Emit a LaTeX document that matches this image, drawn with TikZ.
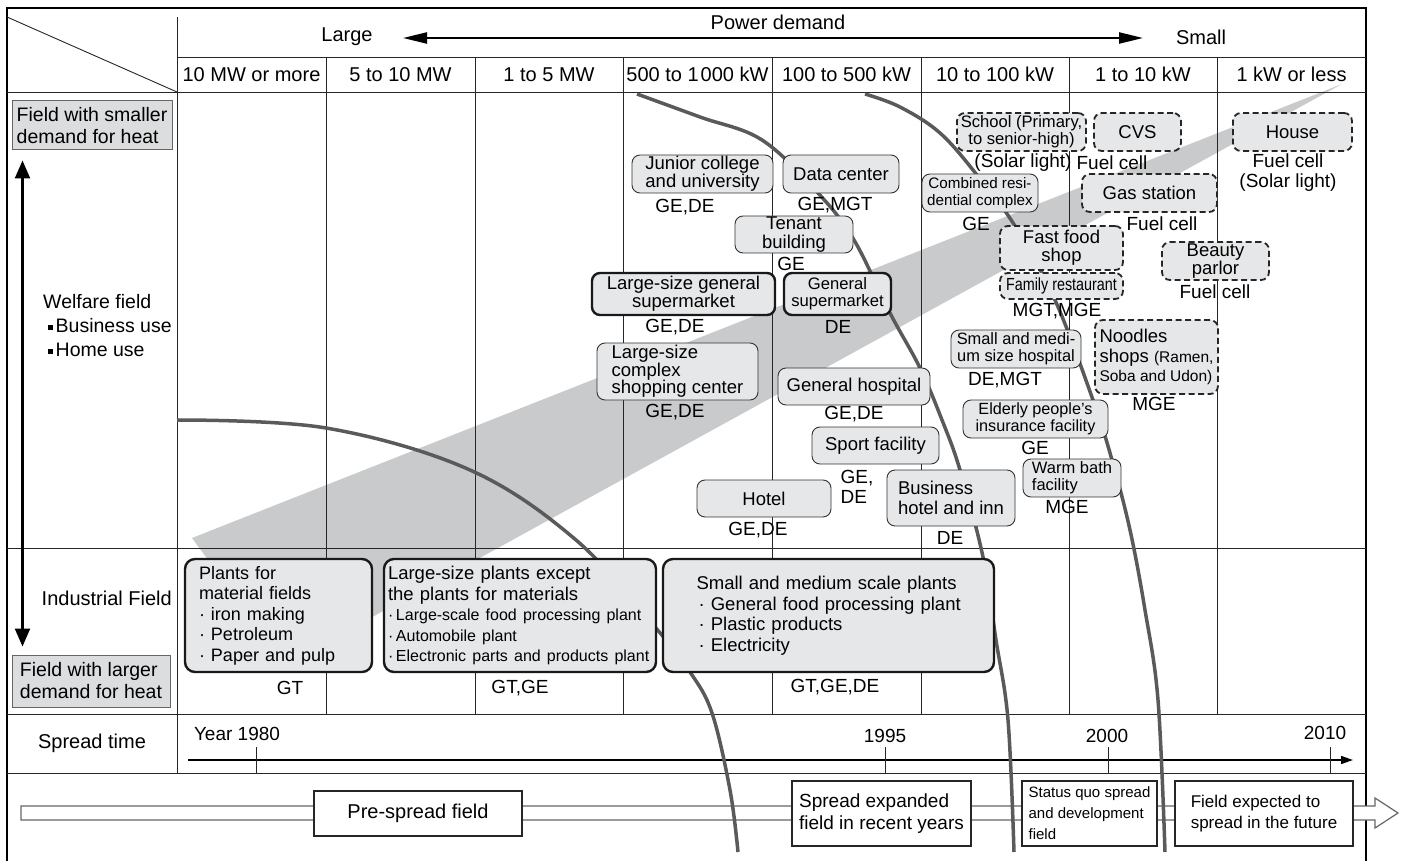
\documentclass[tikz,border=0pt]{standalone}
\usepackage{fontspec}
\setmainfont{Liberation Sans}
\newfontfamily\narrowf[FakeStretch=0.82]{Liberation Sans}
\usetikzlibrary{arrows.meta}
\definecolor{nfill}{HTML}{E6E7E8}
\definecolor{wedgec}{HTML}{C9CACB}
\definecolor{curvec}{HTML}{5A5A5A}
\definecolor{hfill}{HTML}{DCDDDE}
\newcommand{\fsz}[2]{\fontsize{#1}{#2}\selectfont}
\newcommand{\sqb}{\rule[3pt]{4.5pt}{4.5pt}}
\begin{document}
\begin{tikzpicture}[x=1pt,y=-1pt,
  gln/.style={line width=0.9pt, draw=black!85},
  frm/.style={line width=1.3pt, draw=black},
  nd/.style={draw=black!80, fill=nfill, line width=0.9pt, rounded corners=8pt, inner sep=0pt, align=center, font=\fsz{18.5}{17}},
  thk/.style={nd, line width=2.4pt, draw=black!90},
  dsh/.style={nd, dash pattern=on 6pt off 3.5pt, line width=1.8pt, draw=black!85},
  lbl/.style={inner sep=0pt, font=\fsz{19}{20}, align=center},
  ind/.style={draw=black!90, fill=nfill, line width=2.4pt, rounded corners=10pt, inner sep=0pt, align=left},
  btm/.style={draw=black!85, fill=white, line width=2pt, inner sep=0pt},
  hbx/.style={draw=black!60, fill=hfill, line width=1pt, inner sep=0pt, align=left, font=\fsz{19.5}{22}},
  crv/.style={draw=curvec, line width=3.5pt},
  hdr/.style={inner sep=0pt, font=\fsz{20}{22}},
  tipA/.style={line width=2.4pt, {Triangle[length=24pt,width=11pt]}-{Triangle[length=24pt,width=11pt]}},
  tipB/.style={line width=2.4pt, {Triangle[length=18pt,width=15pt]}-{Triangle[length=18pt,width=15pt]}},
  tipC/.style={line width=1.6pt, -{Triangle[length=12pt,width=8pt]}}
]
\useasboundingbox (0,0) rectangle (1409,861);

% gray wedge
\fill[wedgec] (192,538) -- (1342,84) -- (285,665) -- cycle;

% frame and grid
\draw[frm] (7,861) -- (7,8) -- (1366,8) -- (1366,861);
\draw[gln] (177,57) -- (1366,57);
\draw[gln] (7,92) -- (1366,92);
\draw[gln] (7,548) -- (1366,548);
\draw[gln] (7,714) -- (1366,714);
\draw[gln] (7,773) -- (1366,773);
\draw[gln] (177,17) -- (177,773);
\draw[gln] (7,17) -- (177,92);
\foreach \cx in {326,475,623,772,921,1069,1217} {\draw[gln] (\cx,57) -- (\cx,714);}

% bottom hollow band arrow
\draw[draw=black!60, fill=white, line width=1.2pt] (21,806) -- (1375,806) -- (1375,798) -- (1398,813) -- (1375,828) -- (1375,820) -- (21,820) -- cycle;

% timeline
\coordinate (tlA) at (188,760);
\coordinate (tlB) at (1353,760);
\draw[tipC] (tlA) -- (tlB);
\foreach \tx in {256,885,1108,1330} {\draw[gln] (\tx,747) -- (\tx,773);}
\node[hdr, font=\fsz{19}{20}] (y1980) at (237,734) {Year 1980};
\node[hdr, font=\fsz{19}{20}] (y1995) at (885,736) {1995};
\node[hdr, font=\fsz{19}{20}] (y2000) at (1107,736) {2000};
\node[hdr, font=\fsz{19}{20}] (y2010) at (1325,733) {2010};

% curves
\draw[crv] plot[smooth, tension=0.6] coordinates {(177,420) (326,428) (470,470) (576,540) (655,627) (690,672) (712,713) (730,790) (738,852)};
\draw[crv] plot[smooth, tension=0.6] coordinates {(637,94) (700,117) (762,140) (818,193) (854,240) (890,313) (920,368) (942,420) (960,470) (983,557) (996,640) (1008,720) (1014,852)};
\draw[crv] plot[smooth, tension=0.6] coordinates {(865,94) (900,107) (940,133) (977,175) (1015,226) (1055,300) (1093,400) (1112,460) (1130,530) (1145,610) (1158,700) (1165,852)};

% header
\node[hdr] (pd) at (778,22) {Power demand};
\node[hdr] (lg) at (347,37) {Large};
\node[hdr] (sm) at (1201,37) {Small};
\coordinate (pdL) at (403,38);
\coordinate (pdR) at (1143,38);
\draw[tipA] (pdL) -- (pdR);
\node[hdr] (c1) at (251.5,74.5) {10 MW or more};
\node[hdr] (c2) at (400.5,74.5) {5 to 10 MW};
\node[hdr] (c3) at (549,74.5) {1 to 5 MW};
\node[hdr] (c4) at (697.5,74.5) {500 to 1\kern2pt000 kW};
\node[hdr] (c5) at (846.5,74.5) {100 to 500 kW};
\node[hdr] (c6) at (995,74.5) {10 to 100 kW};
\node[hdr] (c7) at (1143,74.5) {1 to 10 kW};
\node[hdr] (c8) at (1291.5,74.5) {1 kW or less};

% left column
\node[hbx, minimum width=160pt, minimum height=49pt] (smaller) at (92,125.5) {Field with smaller\\demand for heat};
\node[hbx, minimum width=158pt, minimum height=52pt] (larger) at (91,681) {Field with larger\\demand for heat};
\draw[tipB] ([xshift=11pt,yshift=-10pt]smaller.south west) -- ([xshift=11pt,yshift=8pt]larger.north west);
\node[hdr, anchor=west, align=left, font=\fsz{19.5}{24}] (welf) at (43,326) {Welfare field\\\hspace*{5pt}\sqb\hspace{3pt}Business use\\\hspace*{5pt}\sqb\hspace{3pt}Home use};
\node[hdr, anchor=east] (indf) at (172,598) {Industrial Field};
\node[hdr] (sprt) at (92,743) {Spread time};

% welfare nodes
\node[nd, minimum width=141pt, minimum height=38pt] (junior) at (702.5,174) {Junior college\\and university};
\node[nd, minimum width=116pt, minimum height=38pt] (datac) at (841,174) {Data center};
\node[nd, minimum width=118pt, minimum height=37pt, font=\fsz{18.5}{19}] (tenant) at (794,234.5) {Tenant\\building};
\node[thk, minimum width=183pt, minimum height=42pt] (lgsm) at (683.5,294) {Large-size general\\supermarket};
\node[thk, minimum width=107pt, minimum height=42pt, font=\fsz{16.6}{17}] (gsm) at (837.5,294) {General\\supermarket};
\node[nd, minimum width=161pt, minimum height=57pt, align=left, font=\fsz{18.5}{17.5}] (complex) at (677.5,371.5) {Large-size\\complex\\shopping center};
\node[nd, minimum width=152pt, minimum height=37pt] (ghosp) at (854,386.5) {General hospital};
\node[nd, minimum width=127pt, minimum height=37pt] (sport) at (875.5,445.5) {Sport facility};
\node[nd, minimum width=134pt, minimum height=37pt] (hotel) at (764,498.5) {Hotel};
\node[nd, minimum width=128pt, minimum height=56pt, align=left, font=\fsz{18.5}{19.5}] (bizh) at (951,498) {Business\\hotel and inn};
\node[dsh, minimum width=129pt, minimum height=38pt, font=\fsz{16.6}{17}] (school) at (1021.5,132) {School (Primary,\\to senior-high)};
\node[dsh, minimum width=87pt, minimum height=38pt] (cvs) at (1137.5,132) {CVS};
\node[dsh, minimum width=119pt, minimum height=38pt] (house) at (1292.5,132) {House};
\node[nd, minimum width=116pt, minimum height=38pt, font=\fsz{15.2}{17}] (combined) at (980,193) {Combined resi-\\dential complex};
\node[dsh, minimum width=135pt, minimum height=38pt] (gas) at (1149.5,193) {Gas station};
\node[dsh, minimum width=123pt, minimum height=44pt, font=\fsz{18.5}{18}] (fastfood) at (1061.5,248) {Fast food\\shop};
\node[dsh, minimum width=123pt, minimum height=26pt, font=\narrowf\fsz{17.5}{18}] (family) at (1061.5,286) {Family restaurant};
\node[dsh, minimum width=107pt, minimum height=38pt, font=\fsz{18.5}{18}] (beauty) at (1215.5,261) {Beauty\\parlor};
\node[nd, minimum width=130pt, minimum height=38pt, font=\fsz{16.4}{17}] (smallh) at (1016,349) {Small and medi-\\um size hospital};
\node[dsh, minimum width=123pt, minimum height=74pt, align=left, font=\fsz{18.5}{19.5}] (noodles) at (1156.5,357) {Noodles\\shops {\fsz{15.5}{19.5}(Ramen,}\\{\fsz{15.5}{19.5}Soba and Udon)}};
\node[nd, minimum width=145pt, minimum height=38pt, font=\fsz{16.2}{17}] (elderly) at (1035.5,419) {Elderly people's\\insurance facility};
\node[nd, minimum width=98pt, minimum height=38pt, align=left, font=\fsz{16.5}{17}] (warm) at (1072,478) {Warm bath\\facility};

% labels
\node[lbl] (l1) at (685,207) {GE,DE};
\node[lbl] (l2) at (835,205) {GE,MGT};
\node[lbl] (l3) at (791,264) {GE};
\node[lbl] (l4) at (675,327) {GE,DE};
\node[lbl] (l5) at (838,327) {DE};
\node[lbl] (l6) at (675,412) {GE,DE};
\node[lbl] (l7) at (854,414) {GE,DE};
\node[lbl, align=left] (l8) at (857,487) {GE,\\DE};
\node[lbl] (l9) at (758,530) {GE,DE};
\node[lbl] (l10) at (950,538) {DE};
\node[lbl] (l11) at (1023,163) {(Solar light)};
\node[lbl] (l12) at (1112,163) {Fuel cell};
\node[lbl] (l13) at (1288,173) {Fuel cell\\(Solar light)};
\node[lbl] (l14) at (976,224) {GE};
\node[lbl] (l15) at (1162,224) {Fuel cell};
\node[lbl] (l16) at (1057,311) {MGT,MGE};
\node[lbl] (l17) at (1215,292) {Fuel cell};
\node[lbl] (l18) at (1005,380) {DE,MGT};
\node[lbl] (l19) at (1154,404) {MGE};
\node[lbl] (l20) at (1035,448) {GE};
\node[lbl] (l21) at (1067,507) {MGE};

% industrial
\node[ind, minimum width=187pt, minimum height=113pt, text width=159pt, font=\fsz{18}{20.5}] (ind1) at (278.5,615.5) {Plants for\\material fields\\· iron making\\· Petroleum\\· Paper and pulp};
\node[ind, minimum width=272pt, minimum height=113pt, text width=264pt, font=\fsz{18.5}{20.5}] (ind2) at (520,615.5) {Large-size plants except\\the plants for materials\\{\fsz{16}{20.5}·\,Large-scale food processing plant}\\{\fsz{16}{20.5}·\,Automobile plant}\\{\fsz{16}{20.5}·\,Electronic parts and products plant}};
\node[ind, minimum width=331pt, minimum height=113pt, text width=280pt, font=\fsz{18.5}{20.5}] (ind3) at (828.5,615.5) {\hspace*{8pt}Small and medium scale plants\\\hspace*{10pt}· General food processing plant\\\hspace*{10pt}· Plastic products\\\hspace*{10pt}· Electricity};
\node[lbl] (l22) at (290,688) {GT};
\node[lbl] (l23) at (520,688) {GT,GE};
\node[lbl] (l24) at (835,687) {GT,GE,DE};

% bottom boxes
\node[btm, minimum width=208pt, minimum height=45pt, font=\fsz{20}{22}] (pre) at (418,813.5) {Pre-spread field};
\node[btm, minimum width=179pt, minimum height=65pt, align=left, font=\fsz{19}{22}] (expd) at (881.5,813.5) {Spread expanded\\field in recent years};
\node[btm, minimum width=135pt, minimum height=65pt, align=left, font=\fsz{15}{21}] (squo) at (1089.5,813.5) {Status quo spread\\and development\\field};
\node[btm, minimum width=178pt, minimum height=65pt, align=left, font=\fsz{17}{21}] (futr) at (1264,813.5) {Field expected to\\spread in the future};
\end{tikzpicture}
\end{document}
